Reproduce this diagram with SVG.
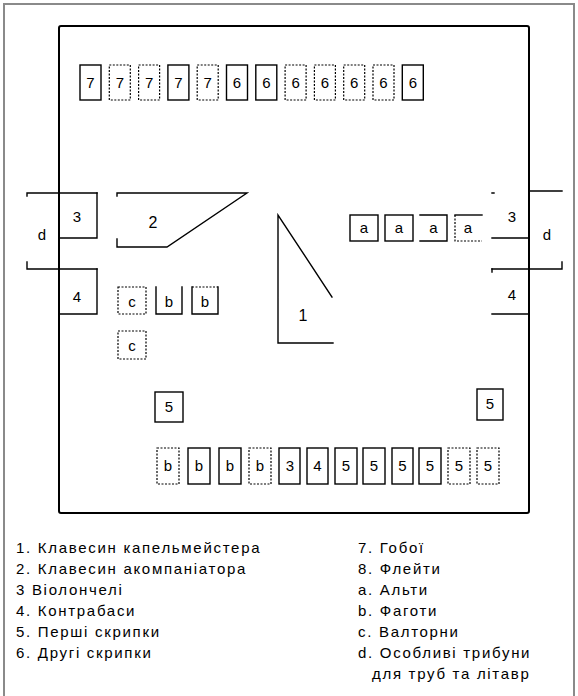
<svg xmlns="http://www.w3.org/2000/svg" width="578" height="696" viewBox="0 0 578 696">
<style>
.ln{fill:none;stroke:#000;stroke-width:1.4;stroke-linecap:square}
.dt{fill:none;stroke:#000;stroke-width:1.2;stroke-dasharray:2 1.5}
.stage{fill:none;stroke:#000;stroke-width:2}
.frame{fill:none;stroke:#8a8a8a;stroke-width:2}
.t{font-family:"Liberation Sans",Arial,sans-serif;font-size:15px;fill:#000;text-anchor:middle}
.lg{font-family:"Liberation Sans",Arial,sans-serif;font-size:15px;letter-spacing:1.7px;fill:#000}
</style>
<rect width="578" height="696" fill="#fff"/>
<path class="frame" d="M4,696 V4 H574 V696"/>
<rect id="stage" class="stage" x="59" y="26" width="470" height="487" rx="2"/>

<g id="row-top">
<g id="n7-1"><rect class="ln" x="80" y="65" width="21" height="35"/><text class="t" x="90.5" y="88">7</text></g>
<g id="n7-2"><rect class="dt" x="109.3" y="65" width="21" height="35"/><text class="t" x="119.8" y="88">7</text></g>
<g id="n7-3"><rect class="dt" x="138.6" y="65" width="21" height="35"/><text class="t" x="149.1" y="88">7</text></g>
<g id="n7-4"><rect class="ln" x="167.9" y="65" width="21" height="35"/><text class="t" x="178.4" y="88">7</text></g>
<g id="n7-5"><rect class="dt" x="197.2" y="65" width="21" height="35"/><text class="t" x="207.7" y="88">7</text></g>
<g id="n6-1"><rect class="ln" x="226.5" y="65" width="21" height="35"/><text class="t" x="237" y="88">6</text></g>
<g id="n6-2"><rect class="ln" x="255.8" y="65" width="21" height="35"/><text class="t" x="266.3" y="88">6</text></g>
<g id="n6-3"><rect class="dt" x="285.1" y="65" width="21" height="35"/><text class="t" x="295.6" y="88">6</text></g>
<g id="n6-4"><rect class="dt" x="314.4" y="65" width="21" height="35"/><text class="t" x="324.9" y="88">6</text></g>
<g id="n6-5"><rect class="dt" x="343.7" y="65" width="21" height="35"/><text class="t" x="354.2" y="88">6</text></g>
<g id="n6-6"><rect class="dt" x="373" y="65" width="21" height="35"/><text class="t" x="383.5" y="88">6</text></g>
<g id="n6-7"><rect class="ln" x="402.3" y="65" width="21" height="35"/><text class="t" x="412.8" y="88">6</text></g>
</g>

<g id="left-side">
<g id="d-left"><path class="ln" d="M27,193 H97 M27,269 H97 M27,193 v3 M27,262 v7"/><text class="t" x="42" y="240">d</text></g>
<g id="n3-left"><path class="ln" d="M97,193 V238 H59"/><text class="t" x="77" y="222">3</text></g>
<g id="n4-left"><path class="ln" d="M97,269 V314 H59"/><text class="t" x="77" y="302">4</text></g>
</g>

<g id="right-side">
<g id="d-right"><path class="ln" d="M529,191 H562 M492,269 H562 M562,262 v7"/><text class="t" x="547" y="240">d</text></g>
<g id="n3-right"><path class="ln" d="M492,193 h2 M492,238 H529"/><text class="t" x="512" y="222">3</text></g>
<g id="n4-right"><path class="ln" d="M492,269 v3 M492,314 H529"/><text class="t" x="512" y="300">4</text></g>
</g>

<g id="n2"><path class="ln" d="M117,193 H247 L167,247 H117 M117,193 v3 M117,239 v8"/><text class="t" x="153" y="228" style="font-size:16px">2</text></g>
<g id="n1"><path class="ln" d="M332,297 L278,215 V343 H333"/><text class="t" x="303" y="321" style="font-size:16px">1</text></g>

<g id="violas">
<g id="a1"><rect class="ln" x="350" y="215" width="28" height="26"/><text class="t" x="364" y="233">a</text></g>
<g id="a2"><rect class="ln" x="385" y="215" width="28" height="26"/><text class="t" x="399" y="233">a</text></g>
<g id="a3"><path class="ln" d="M420,215 H447 V241 H420"/><text class="t" x="433.5" y="233">a</text></g>
<g id="a4"><path class="ln" d="M482,215 H455"/><path class="dt" d="M455,215 V241 H482"/><text class="t" x="468" y="233">a</text></g>
</g>

<g id="horns-bassoons">
<g id="c1"><rect class="dt" x="118" y="287" width="28" height="27"/><text class="t" x="132" y="307">c</text></g>
<g id="b-l1"><path class="ln" d="M156,287 V314 H182 V287"/><text class="t" x="169" y="307">b</text></g>
<g id="b-l2"><path class="ln" d="M192,287 V314 H218 V287"/><path class="dt" d="M192,287 H218"/><text class="t" x="205" y="307">b</text></g>
<g id="c2"><rect class="dt" x="118" y="331" width="28" height="28"/><text class="t" x="132" y="351">c</text></g>
</g>

<g id="n5-left"><rect class="ln" x="155" y="392" width="28" height="30"/><text class="t" x="169" y="412">5</text></g>
<g id="n5-right"><rect class="ln" x="477" y="389" width="26" height="31"/><text class="t" x="490" y="409">5</text></g>

<g id="row-bottom">
<g id="bb1"><rect class="dt" x="157" y="448" width="22" height="36"/><text class="t" x="168" y="471">b</text></g>
<g id="bb2"><rect class="ln" x="188" y="448" width="22" height="36"/><text class="t" x="199" y="471">b</text></g>
<g id="bb3"><rect class="ln" x="219" y="448" width="22" height="36"/><text class="t" x="230" y="471">b</text></g>
<g id="bb4"><rect class="dt" x="249" y="448" width="22" height="36"/><text class="t" x="260" y="471">b</text></g>
<g id="bc3"><rect class="ln" x="279" y="448" width="21" height="36"/><text class="t" x="290" y="471">3</text></g>
<g id="bc4"><rect class="ln" x="307" y="448" width="21" height="36"/><text class="t" x="317.5" y="471">4</text></g>
<g id="bv1"><rect class="ln" x="335" y="448" width="22" height="36"/><text class="t" x="346" y="471">5</text></g>
<g id="bv2"><rect class="ln" x="363" y="448" width="22" height="36"/><text class="t" x="374" y="471">5</text></g>
<g id="bv3"><rect class="ln" x="392" y="448" width="21" height="36"/><text class="t" x="402.5" y="471">5</text></g>
<g id="bv4"><rect class="ln" x="419" y="448" width="22" height="36"/><text class="t" x="430" y="471">5</text></g>
<g id="bv5"><rect class="dt" x="448" y="448" width="22" height="36"/><text class="t" x="459" y="471">5</text></g>
<g id="bv6"><rect class="dt" x="477" y="448" width="22" height="36"/><text class="t" x="488" y="471">5</text></g>
</g>

<g id="connectors"></g>

<g id="legend">
<text class="lg" x="16" y="553">1. Клавесин капельмейстера</text>
<text class="lg" x="16" y="574">2. Клавесин акомпаніатора</text>
<text class="lg" x="16" y="595">3  Віолончелі</text>
<text class="lg" x="16" y="616">4. Контрабаси</text>
<text class="lg" x="16" y="637">5. Перші скрипки</text>
<text class="lg" x="16" y="658">6. Другі скрипки</text>
<text class="lg" x="358" y="553">7. Гобої</text>
<text class="lg" x="358" y="574">8. Флейти</text>
<text class="lg" x="358" y="595">a. Альти</text>
<text class="lg" x="358" y="616">b. Фаготи</text>
<text class="lg" x="358" y="637">c. Валторни</text>
<text class="lg" x="358" y="658">d. Особливі трибуни</text>
<text class="lg" x="372" y="679">для труб та літавр</text>
</g>
</svg>
